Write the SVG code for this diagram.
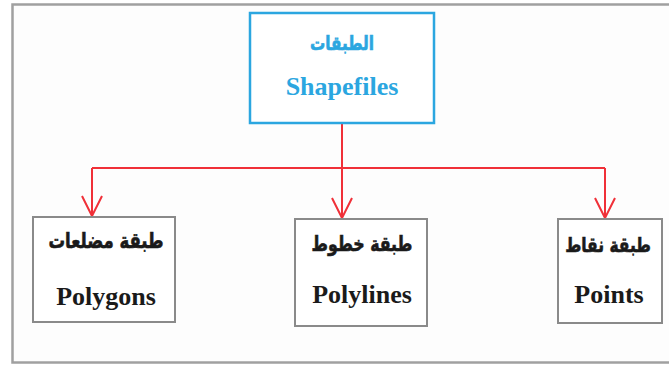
<svg xmlns="http://www.w3.org/2000/svg" width="669" height="369" viewBox="0 0 669 369">
<style>
.frame{fill:#fdfdfd;stroke:#a0a0a0;stroke-width:2.5}
.box{fill:#ffffff;stroke:#8a8a8a;stroke-width:2}
.top{fill:#ffffff;stroke:#2ba6e0;stroke-width:2.5}
.en{font-family:"Liberation Serif","Times New Roman",serif;font-weight:bold;font-size:26px;text-anchor:middle;fill:#1a1a1a}
.ar{font-family:"DejaVu Sans","Noto Sans",sans-serif;font-weight:bold;text-anchor:middle;fill:#1a1a1a;stroke:#1a1a1a;stroke-width:0.5}
.blue{fill:#2ba6e0;stroke:#2ba6e0}
.en.blue{stroke:none}
.con{fill:none;stroke:#f03038;stroke-width:2}
</style>
<defs>
<marker id="arr" viewBox="0 0 24 24" refX="22" refY="12" markerWidth="24" markerHeight="24" markerUnits="userSpaceOnUse" orient="auto">
<path d="M2,2 L22,12 L2,22" fill="none" stroke="#f03038" stroke-width="2"/>
</marker>
</defs>
<rect class="frame" x="12.5" y="4.5" width="670" height="358"/>
<g id="connectors">
<path class="con" d="M342,123 V168"/>
<path class="con" d="M92,168 H605"/>
<path class="con" d="M92,168 V216" marker-end="url(#arr)"/>
<path class="con" d="M342,168 V218" marker-end="url(#arr)"/>
<path class="con" d="M605,168 V218" marker-end="url(#arr)"/>
</g>
<g id="shapefiles">
<rect class="top" x="250" y="13" width="184" height="110"/>
<text class="ar blue" transform="translate(342,50) scale(1,1.3)" x="0" y="0" font-size="15.2" direction="rtl">الطبقات</text>
<text class="en blue" x="342" y="95">Shapefiles</text>
</g>
<g id="polygons">
<rect class="box" x="33" y="217" width="142" height="105"/>
<text class="ar" transform="translate(106,248) scale(1,1.3)" x="0" y="0" font-size="16.5" direction="rtl">طبقة مضلعات</text>
<text class="en" x="106" y="305">Polygons</text>
</g>
<g id="polylines">
<rect class="box" x="295" y="219" width="132" height="107"/>
<text class="ar" transform="translate(362,251) scale(1,1.3)" x="0" y="0" font-size="15.8" direction="rtl">طبقة خطوط</text>
<text class="en" x="362" y="303">Polylines</text>
</g>
<g id="points">
<rect class="box" x="558" y="219" width="104" height="104"/>
<text class="ar" transform="translate(608,252) scale(1,1.3)" x="0" y="0" font-size="15.5" direction="rtl">طبقة نقاط</text>
<text class="en" x="609" y="303">Points</text>
</g>
</svg>
